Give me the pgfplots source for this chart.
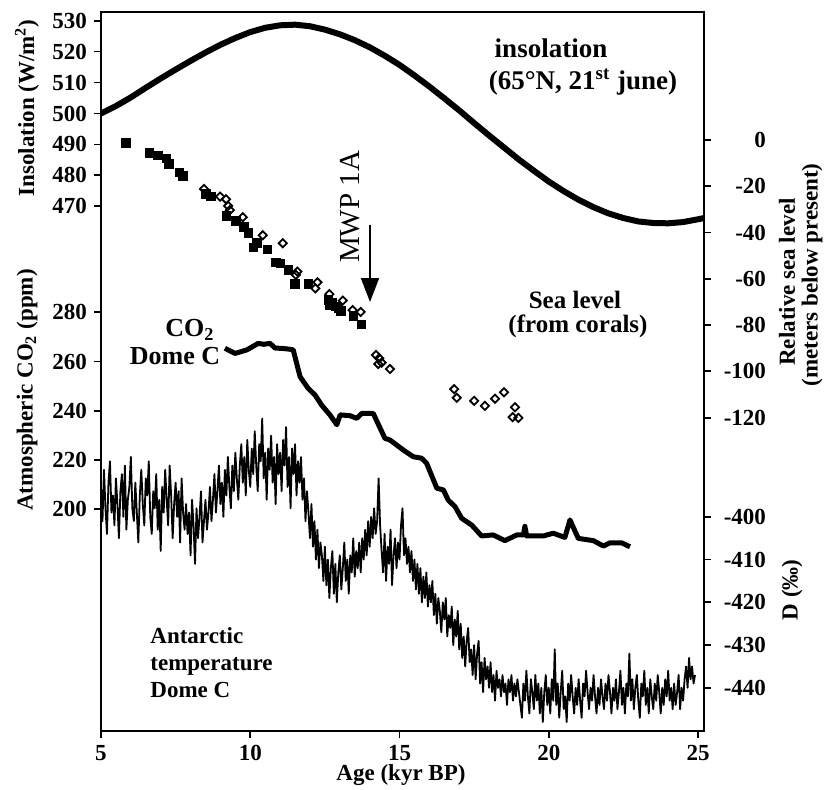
\documentclass[border=0pt]{standalone}
\usepackage{fontspec}
\setmainfont{Liberation Serif}
\usepackage{pgfplots}
\usepackage{pgfplotstable}
\pgfplotsset{compat=1.18}
\usetikzlibrary{arrows.meta}

\pgfplotstableread{
t v
5.0 500.0
5.5 502.4
6.0 505.2
6.5 508.3
7.0 511.3
7.5 514.2
8.0 517.0
8.5 519.7
9.0 522.2
9.5 524.4
10.0 526.3
10.5 527.7
11.0 528.5
11.5 528.7
12.0 528.2
12.5 527.1
13.0 525.6
13.5 523.7
14.0 521.4
14.5 518.7
15.0 515.7
15.5 512.3
16.0 508.7
16.5 504.9
17.0 501.0
17.5 496.9
18.0 492.9
18.5 489.0
19.0 485.1
19.5 481.5
20.0 478.0
20.5 474.9
21.0 472.1
21.5 469.7
22.0 467.7
22.5 466.2
23.0 465.1
23.5 464.6
24.0 464.5
24.5 464.9
25.0 465.8
25.2 466.2
}\insol

\pgfplotstableread{
t v
9.15 265.4
9.49 263.3
9.88 264.7
10.27 267.4
10.45 267.0
10.66 267.4
10.83 265.5
11.10 265.3
11.33 265.0
11.44 264.7
11.67 253.8
11.94 249.1
12.17 246.4
12.39 242.3
12.67 238.3
12.90 234.3
13.01 238.3
13.34 238.0
13.57 236.9
13.73 238.9
14.12 238.9
14.51 228.8
14.68 228.1
15.13 224.0
15.46 221.3
15.74 220.7
15.91 218.6
16.25 208.5
16.47 207.8
16.63 203.7
16.86 201.0
17.08 196.3
17.42 193.5
17.75 189.1
18.14 189.5
18.53 187.2
18.93 189.5
19.15 189.5
19.20 193.0
19.26 189.1
19.82 189.1
20.15 190.2
20.54 188.5
20.71 195.6
20.99 188.1
21.49 187.2
21.83 185.0
22.05 186.3
22.44 186.3
22.72 184.7
}\cotwo

\pgfplotstableread{
t v
5.84 -1.2
6.62 -5.5
6.90 -6.6
7.20 -7.9
7.28 -10.4
7.62 -14.1
7.74 -15.6
8.52 -23.3
8.68 -24.5
9.21 -32.8
9.52 -34.9
9.79 -37.5
9.93 -40.1
10.10 -46.4
10.22 -44.4
10.58 -47.2
10.86 -53.0
11.00 -53.3
11.27 -56.2
11.50 -62.2
11.94 -62.2
12.61 -69.1
12.67 -71.3
12.73 -70.3
12.87 -72.0
12.95 -72.7
13.03 -73.8
13.45 -76.1
13.73 -79.6
}\seasq

\pgfplotstableread{
t v
8.45 -21.2
8.99 -24.5
9.19 -25.6
9.26 -28.5
9.32 -30.3
9.75 -33.4
10.42 -41.2
11.09 -44.6
11.58 -56.9
11.53 -58.3
12.25 -61.5
12.18 -64.1
12.65 -66.6
13.10 -69.4
13.43 -73.5
13.70 -74.3
14.21 -92.9
14.32 -94.3
14.29 -96.8
14.40 -96.2
14.68 -99.0
16.83 -107.7
16.92 -111.4
17.50 -112.7
17.86 -114.9
18.20 -111.8
18.50 -109.0
18.87 -115.5
18.79 -119.8
18.98 -120.1
}\seadia

\pgfplotstableread{
t v
5.00 -393
5.05 -401
5.10 -389
5.15 -398
5.20 -404
5.25 -392
5.30 -387
5.35 -399
5.40 -395
5.45 -402
5.50 -391
5.55 -397
5.60 -405
5.65 -394
5.70 -390
5.75 -400
5.80 -388
5.85 -403
5.90 -396
5.95 -393
6.00 -386
6.05 -398
6.10 -401
6.15 -392
6.20 -399
6.25 -406
6.30 -395
6.35 -389
6.40 -397
6.45 -402
6.50 -391
6.55 -395
6.60 -387
6.65 -400
6.70 -404
6.75 -394
6.80 -398
6.85 -390
6.90 -403
6.95 -396
7.00 -408
7.05 -393
7.10 -399
7.15 -389
7.20 -396
7.25 -402
7.30 -388
7.35 -395
7.40 -405
7.45 -397
7.50 -392
7.55 -400
7.60 -394
7.65 -406
7.70 -391
7.75 -399
7.80 -403
7.85 -397
7.90 -404
7.95 -399
8.00 -409
8.05 -396
8.10 -402
8.15 -411
8.20 -398
8.25 -405
8.30 -400
8.35 -394
8.40 -406
8.45 -401
8.50 -396
8.55 -403
8.60 -399
8.65 -393
8.70 -401
8.75 -396
8.80 -390
8.85 -399
8.90 -394
8.95 -388
9.00 -397
9.05 -392
9.10 -400
9.15 -389
9.20 -395
9.25 -386
9.30 -393
9.35 -398
9.40 -388
9.45 -394
9.50 -385
9.55 -391
9.60 -396
9.65 -388
9.70 -383
9.75 -392
9.80 -386
9.85 -395
9.90 -382
9.95 -389
10.00 -393
10.05 -384
10.10 -390
10.15 -380
10.20 -388
10.25 -394
10.30 -383
10.35 -387
10.40 -377
10.45 -391
10.50 -385
10.55 -396
10.60 -384
10.65 -389
10.70 -381
10.75 -392
10.80 -386
10.85 -397
10.90 -383
10.95 -390
11.00 -385
11.05 -394
11.10 -382
11.15 -388
11.20 -379
11.25 -393
11.30 -386
11.35 -398
11.40 -384
11.45 -390
11.50 -383
11.55 -395
11.60 -387
11.65 -392
11.70 -386
11.75 -396
11.80 -391
11.85 -401
11.90 -394
11.95 -399
12.00 -405
12.05 -397
12.10 -407
12.15 -401
12.20 -410
12.25 -403
12.30 -412
12.35 -406
12.40 -409
12.45 -415
12.50 -407
12.55 -416
12.60 -410
12.65 -419
12.70 -412
12.75 -408
12.80 -418
12.85 -411
12.90 -420
12.95 -413
13.00 -409
13.05 -417
13.10 -412
13.15 -406
13.20 -415
13.25 -410
13.30 -418
13.35 -409
13.40 -413
13.45 -405
13.50 -414
13.55 -408
13.60 -412
13.65 -406
13.70 -413
13.75 -405
13.80 -410
13.85 -403
13.90 -409
13.95 -401
14.00 -407
14.05 -400
14.10 -405
14.15 -398
14.20 -404
14.25 -401
14.30 -391
14.35 -402
14.40 -408
14.45 -413
14.50 -404
14.55 -415
14.60 -407
14.65 -411
14.70 -403
14.75 -416
14.80 -409
14.85 -405
14.90 -412
14.95 -406
15.00 -410
15.05 -402
15.10 -398
15.15 -409
15.20 -405
15.25 -411
15.30 -407
15.35 -413
15.40 -408
15.45 -415
15.50 -410
15.55 -417
15.60 -411
15.65 -418
15.70 -412
15.75 -420
15.80 -414
15.85 -419
15.90 -413
15.95 -421
16.00 -416
16.05 -420
16.10 -415
16.15 -423
16.20 -418
16.25 -425
16.30 -419
16.35 -422
16.40 -427
16.45 -420
16.50 -424
16.55 -419
16.60 -428
16.65 -423
16.70 -426
16.75 -421
16.80 -430
16.85 -424
16.90 -428
16.95 -422
17.00 -431
17.05 -425
17.10 -433
17.15 -428
17.20 -435
17.25 -429
17.30 -426
17.35 -434
17.40 -431
17.45 -437
17.50 -430
17.55 -438
17.60 -432
17.65 -429
17.70 -439
17.75 -434
17.80 -441
17.85 -433
17.90 -438
17.95 -435
18.00 -440
18.05 -434
18.10 -441
18.15 -437
18.20 -443
18.25 -436
18.30 -440
18.35 -438
18.40 -442
18.45 -437
18.50 -441
18.55 -439
18.60 -444
18.65 -438
18.70 -441
18.75 -437
18.80 -443
18.85 -439
18.90 -442
18.95 -438
19.00 -441
19.05 -444
19.10 -447
19.15 -439
19.20 -443
19.25 -436
19.30 -442
19.35 -446
19.40 -438
19.45 -441
19.50 -445
19.55 -437
19.60 -443
19.65 -439
19.70 -446
19.75 -440
19.80 -448
19.85 -441
19.90 -437
19.95 -444
20.00 -440
20.05 -446
20.10 -438
20.15 -443
20.20 -431
20.25 -444
20.30 -439
20.35 -447
20.40 -441
20.45 -436
20.50 -445
20.55 -442
20.60 -448
20.65 -439
20.70 -443
20.75 -437
20.80 -442
20.85 -446
20.90 -440
20.95 -444
21.00 -438
21.05 -443
21.10 -447
21.15 -439
21.20 -442
21.25 -436
21.30 -441
21.35 -445
21.40 -440
21.45 -443
21.50 -437
21.55 -442
21.60 -446
21.65 -440
21.70 -444
21.75 -438
21.80 -442
21.85 -445
21.90 -439
21.95 -443
22.00 -437
22.05 -441
22.10 -446
22.15 -440
22.20 -443
22.25 -438
22.30 -445
22.35 -441
22.40 -436
22.45 -444
22.50 -440
22.55 -446
22.60 -439
22.65 -442
22.70 -432
22.75 -443
22.80 -438
22.85 -445
22.90 -440
22.95 -437
23.00 -443
23.05 -447
23.10 -439
23.15 -442
23.20 -436
23.25 -444
23.30 -440
23.35 -446
23.40 -438
23.45 -442
23.50 -445
23.55 -439
23.60 -443
23.65 -437
23.70 -441
23.75 -446
23.80 -440
23.85 -444
23.90 -438
23.95 -442
24.00 -436
24.05 -443
24.10 -440
24.15 -445
24.20 -439
24.25 -444
24.30 -441
24.35 -437
24.40 -445
24.45 -440
24.50 -443
24.55 -438
24.60 -435
24.65 -440
24.70 -433
24.75 -438
24.80 -435
24.85 -439
24.90 -437
}\temp

\begin{document}
\begin{tikzpicture}[x=0.5pt,y=0.5pt]
\useasboundingbox (0,0) rectangle (825,789);
\pgfplotsset{
  base/.style={
    at={(50.5pt,29pt)}, anchor=south west,
    width=301.5pt, height=359.5pt, scale only axis,
    xmin=5, xmax=25.2,
    tick align=outside,
    major tick length=3.5pt,
    every tick/.style={black, line width=0.9pt},
    axis line style={line width=0.9pt, -},
    /pgf/number format/assume math mode=true,
    tick label style={font=\fontsize{11.5}{12}\selectfont\bfseries},
  },
  rightax/.style={
    hide x axis, axis y line*=right,
    yticklabel style={anchor=east, xshift=31pt},
  },
}
% insolation + frame
\begin{axis}[base,
  ymin=300.4, ymax=532.8,
  xtick={5,10,15,20,25}, xtick pos=bottom,
  ytick={470,480,...,530}, ytick pos=left]
\addplot[black, line width=3pt, line join=round] table[x=t,y=v] {\insol};
\end{axis}
% CO2
\begin{axis}[base, hide x axis, axis y line*=left,
  ymin=109.8, ymax=402.1, ytick={200,220,...,280}]
\addplot[black, line width=2.5pt, line join=round] table[x=t,y=v] {\cotwo};
\end{axis}
% sea level
\begin{axis}[base, rightax,
  ymin=-255.4, ymax=55.3, ytick={-120,-100,...,0},
  yticklabels={-120,-100,-80,-60,-40,-20,0}]
\addplot[only marks, mark=square*, mark size=2.1pt, black] table[x=t,y=v] {\seasq};
\addplot[only marks, mark=square, mark size=1.45pt, black, mark options={rotate=45, line width=0.9pt, fill=white}] table[x=t,y=v] {\seadia};
\end{axis}
% deuterium
\begin{axis}[base, rightax,
  ymin=-450.1, ymax=-281.9, ytick={-440,-430,...,-400},
  yticklabels={-440,-430,-420,-410,-400}]
\addplot[black, line width=0.9pt, line join=round] table[x=t,y=v] {\temp};
\end{axis}

% annotations
\begin{scope}[font=\bfseries]
\node[font=\fontsize{13.5}{15}\selectfont\bfseries] at (551,741) {insolation};
\node[font=\fontsize{13.5}{15}\selectfont\bfseries] at (583,707) {(65°N, 21\textsuperscript{st} june)};
\node[font=\fontsize{12.5}{14}\selectfont\bfseries] at (575,489) {Sea level};
\node[font=\fontsize{12.5}{14}\selectfont\bfseries] at (578,463) {(from corals)};
\node[font=\fontsize{13}{14}\selectfont\bfseries] at (190,459) {CO\textsubscript{2}};
\node[font=\fontsize{13}{14}\selectfont\bfseries] at (175,433) {Dome C};
\node[font=\fontsize{11.5}{13.5}\selectfont\bfseries, align=left, anchor=north west, inner sep=0pt] at (150,162) {Antarctic\\temperature\\Dome C};
\node[font=\fontsize{14.5}{16}\selectfont, rotate=90] at (350,582) {MWP 1A};
\draw[line width=0.9pt, -{Triangle[width=9pt,length=12pt]}] (370,564) -- (370,487);
\node[font=\fontsize{11.5}{13}\selectfont\bfseries, rotate=90] at (27,681) {Insolation (W/m\textsuperscript{2})};
\node[font=\fontsize{11.5}{13}\selectfont\bfseries, rotate=90] at (27,399) {Atmospheric CO\textsubscript{2} (ppm)};
\node[font=\fontsize{11.5}{13}\selectfont\bfseries, rotate=90] at (787,507) {Relative sea level};
\node[font=\fontsize{11.5}{13}\selectfont\bfseries, rotate=90] at (812,514) {(meters below present)};
\node[font=\fontsize{11.5}{13}\selectfont\bfseries, rotate=90] at (792,199) {D (‰)};
\node[font=\fontsize{11.5}{13}\selectfont\bfseries] at (401,14) {Age (kyr BP)};
\end{scope}
\end{tikzpicture}
\end{document}
